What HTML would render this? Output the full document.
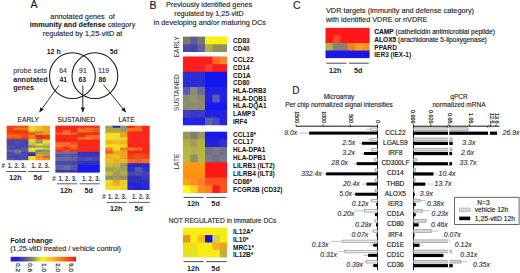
<!DOCTYPE html>
<html><head><meta charset="utf-8"><style>
html,body{margin:0;padding:0;background:#fff;width:520px;height:273px;overflow:hidden}
svg{display:block}
text{font-family:"Liberation Sans",sans-serif}
</style></head><body>
<svg width="520" height="273" viewBox="0 0 520 273" shape-rendering="auto">
<rect width="520" height="273" fill="#fff"/>
<text x="30.4" y="8.3" font-size="10.5" fill="#1a1a1a" stroke="#1a1a1a" stroke-width="0.15">A</text>
<text x="82.6" y="19.0" font-size="7.3" text-anchor="middle" fill="#2a2a2a" stroke="#2a2a2a" stroke-width="0.15">annotated genes&#160; of</text>
<text x="82.6" y="27.3" font-size="7.2" text-anchor="middle" fill="#2a2a2a" stroke="#2a2a2a" stroke-width="0.15"><tspan font-weight="bold">immunity and defense</tspan> category</text>
<text x="82.6" y="35.6" font-size="7.3" text-anchor="middle" fill="#2a2a2a" stroke="#2a2a2a" stroke-width="0.15">regulated by 1,25-vitD at</text>
<text x="53.7" y="53.8" font-size="7.0" font-weight="bold" text-anchor="middle" fill="#1a1a1a">12 h</text>
<text x="113.6" y="53.8" font-size="6.8" font-weight="bold" text-anchor="middle" fill="#1a1a1a">5d</text>
<circle cx="72.4" cy="75.7" r="22.9" fill="none" stroke="#1a1a1a" stroke-width="1.05"/>
<circle cx="94.9" cy="75.7" r="22.9" fill="none" stroke="#1a1a1a" stroke-width="1.05"/>
<text x="13.2" y="73.0" font-size="7.2" fill="#444" stroke="#444" stroke-width="0.15">probe sets</text>
<text x="13.2" y="81.6" font-size="7.2" font-weight="bold" fill="#1a1a1a">annotated</text>
<text x="13.2" y="90.2" font-size="7.2" font-weight="bold" fill="#1a1a1a">genes</text>
<text x="63.1" y="73.3" font-size="6.9" text-anchor="middle" fill="#444" stroke="#444" stroke-width="0.15">64</text>
<text x="63.3" y="82.2" font-size="6.8" font-weight="bold" text-anchor="middle" fill="#1a1a1a">41</text>
<text x="82.9" y="73.3" font-size="6.9" text-anchor="middle" fill="#444" stroke="#444" stroke-width="0.15">91</text>
<text x="82.2" y="82.2" font-size="6.8" font-weight="bold" text-anchor="middle" fill="#1a1a1a">63</text>
<text x="103.6" y="73.3" font-size="6.9" text-anchor="middle" fill="#444" stroke="#444" stroke-width="0.15">119</text>
<text x="102.3" y="82.2" font-size="6.8" font-weight="bold" text-anchor="middle" fill="#1a1a1a">86</text>
<line x1="59.0" y1="85.3" x2="39.4" y2="112.2" stroke="#1a1a1a" stroke-width="0.9"/>
<polygon points="39.40,112.20 40.33,107.19 43.89,109.78" fill="#1a1a1a"/>
<line x1="82.8" y1="85.6" x2="82.8" y2="112.2" stroke="#1a1a1a" stroke-width="0.9"/>
<polygon points="82.80,112.20 80.60,107.60 85.00,107.60" fill="#1a1a1a"/>
<line x1="103.4" y1="84.6" x2="125.8" y2="112.2" stroke="#1a1a1a" stroke-width="0.9"/>
<polygon points="125.80,112.20 121.19,110.01 124.61,107.24" fill="#1a1a1a"/>
<text x="28.2" y="121.9" font-size="6.7" text-anchor="middle" fill="#2a2a2a" stroke="#2a2a2a" stroke-width="0.15">EARLY</text>
<text x="76.5" y="121.9" font-size="6.7" text-anchor="middle" fill="#2a2a2a" stroke="#2a2a2a" stroke-width="0.15">SUSTAINED</text>
<text x="126.5" y="121.9" font-size="6.7" text-anchor="middle" fill="#2a2a2a" stroke="#2a2a2a" stroke-width="0.15">LATE</text>
<rect x="6.70" y="125.70" width="7.82" height="2.40" fill="#f5420f"/>
<rect x="13.92" y="125.70" width="7.82" height="2.40" fill="#f5420f"/>
<rect x="21.13" y="125.70" width="7.82" height="2.40" fill="#f5420f"/>
<rect x="28.35" y="125.70" width="7.82" height="2.40" fill="#f0d820"/>
<rect x="35.57" y="125.70" width="7.82" height="2.40" fill="#f0c020"/>
<rect x="42.78" y="125.70" width="7.22" height="2.40" fill="#f0a020"/>
<rect x="6.70" y="127.50" width="7.82" height="2.70" fill="#f04010"/>
<rect x="13.92" y="127.50" width="7.82" height="2.70" fill="#f07818"/>
<rect x="21.13" y="127.50" width="7.82" height="2.70" fill="#f07818"/>
<rect x="28.35" y="127.50" width="7.82" height="2.70" fill="#f0d820"/>
<rect x="35.57" y="127.50" width="7.82" height="2.70" fill="#f0c020"/>
<rect x="42.78" y="127.50" width="7.22" height="2.70" fill="#f0a828"/>
<rect x="6.70" y="129.60" width="7.82" height="2.60" fill="#f5420f"/>
<rect x="13.92" y="129.60" width="7.82" height="2.60" fill="#f5420f"/>
<rect x="21.13" y="129.60" width="7.82" height="2.60" fill="#f05010"/>
<rect x="28.35" y="129.60" width="7.82" height="2.60" fill="#f0d020"/>
<rect x="35.57" y="129.60" width="7.82" height="2.60" fill="#f0b020"/>
<rect x="42.78" y="129.60" width="7.22" height="2.60" fill="#f0a020"/>
<rect x="6.70" y="131.60" width="7.82" height="2.00" fill="#f5420f"/>
<rect x="13.92" y="131.60" width="7.82" height="2.00" fill="#f02810"/>
<rect x="21.13" y="131.60" width="7.82" height="2.00" fill="#f02810"/>
<rect x="28.35" y="131.60" width="7.82" height="2.00" fill="#b09040"/>
<rect x="35.57" y="131.60" width="7.82" height="2.00" fill="#a08848"/>
<rect x="42.78" y="131.60" width="7.22" height="2.00" fill="#f0a020"/>
<rect x="6.70" y="133.00" width="7.82" height="2.60" fill="#f05010"/>
<rect x="13.92" y="133.00" width="7.82" height="2.60" fill="#f05010"/>
<rect x="21.13" y="133.00" width="7.82" height="2.60" fill="#f5420f"/>
<rect x="28.35" y="133.00" width="7.82" height="2.60" fill="#f05010"/>
<rect x="35.57" y="133.00" width="7.82" height="2.60" fill="#f09020"/>
<rect x="42.78" y="133.00" width="7.22" height="2.60" fill="#f09020"/>
<rect x="6.70" y="135.00" width="7.82" height="2.80" fill="#f07020"/>
<rect x="13.92" y="135.00" width="7.82" height="2.80" fill="#f07020"/>
<rect x="21.13" y="135.00" width="7.82" height="2.80" fill="#f05020"/>
<rect x="28.35" y="135.00" width="7.82" height="2.80" fill="#f08020"/>
<rect x="35.57" y="135.00" width="7.82" height="2.80" fill="#f02010"/>
<rect x="42.78" y="135.00" width="7.22" height="2.80" fill="#f04010"/>
<rect x="6.70" y="137.20" width="7.82" height="2.80" fill="#f5420f"/>
<rect x="13.92" y="137.20" width="7.82" height="2.80" fill="#f5420f"/>
<rect x="21.13" y="137.20" width="7.82" height="2.80" fill="#f03010"/>
<rect x="28.35" y="137.20" width="7.82" height="2.80" fill="#f08020"/>
<rect x="35.57" y="137.20" width="7.82" height="2.80" fill="#f03010"/>
<rect x="42.78" y="137.20" width="7.22" height="2.80" fill="#f03010"/>
<rect x="6.70" y="139.40" width="7.82" height="2.60" fill="#4646b0"/>
<rect x="13.92" y="139.40" width="7.82" height="2.60" fill="#4646b0"/>
<rect x="21.13" y="139.40" width="7.82" height="2.60" fill="#4646b0"/>
<rect x="28.35" y="139.40" width="7.82" height="2.60" fill="#e8e020"/>
<rect x="35.57" y="139.40" width="7.82" height="2.60" fill="#a0a050"/>
<rect x="42.78" y="139.40" width="7.22" height="2.60" fill="#e0d030"/>
<rect x="6.70" y="141.40" width="7.82" height="2.70" fill="#4646b0"/>
<rect x="13.92" y="141.40" width="7.82" height="2.70" fill="#5050a8"/>
<rect x="21.13" y="141.40" width="7.82" height="2.70" fill="#4646b0"/>
<rect x="28.35" y="141.40" width="7.82" height="2.70" fill="#d0d040"/>
<rect x="35.57" y="141.40" width="7.82" height="2.70" fill="#909070"/>
<rect x="42.78" y="141.40" width="7.22" height="2.70" fill="#e8e030"/>
<rect x="6.70" y="143.50" width="7.82" height="2.70" fill="#4646b0"/>
<rect x="13.92" y="143.50" width="7.82" height="2.70" fill="#4646b0"/>
<rect x="21.13" y="143.50" width="7.82" height="2.70" fill="#4646b0"/>
<rect x="28.35" y="143.50" width="7.82" height="2.70" fill="#c0c048"/>
<rect x="35.57" y="143.50" width="7.82" height="2.70" fill="#e8e030"/>
<rect x="42.78" y="143.50" width="7.22" height="2.70" fill="#c8c040"/>
<rect x="6.70" y="145.60" width="7.82" height="2.60" fill="#5252a8"/>
<rect x="13.92" y="145.60" width="7.82" height="2.60" fill="#4646b0"/>
<rect x="21.13" y="145.60" width="7.82" height="2.60" fill="#4646b0"/>
<rect x="28.35" y="145.60" width="7.82" height="2.60" fill="#8a8a70"/>
<rect x="35.57" y="145.60" width="7.82" height="2.60" fill="#a0a050"/>
<rect x="42.78" y="145.60" width="7.22" height="2.60" fill="#a0a050"/>
<rect x="6.70" y="147.60" width="7.82" height="2.70" fill="#4646b0"/>
<rect x="13.92" y="147.60" width="7.82" height="2.70" fill="#4646b0"/>
<rect x="21.13" y="147.60" width="7.82" height="2.70" fill="#5a5aa0"/>
<rect x="28.35" y="147.60" width="7.82" height="2.70" fill="#f0e030"/>
<rect x="35.57" y="147.60" width="7.82" height="2.70" fill="#e8e030"/>
<rect x="42.78" y="147.60" width="7.22" height="2.70" fill="#c8c848"/>
<rect x="6.70" y="149.70" width="7.82" height="2.70" fill="#6a6a98"/>
<rect x="13.92" y="149.70" width="7.82" height="2.70" fill="#7a7a88"/>
<rect x="21.13" y="149.70" width="7.82" height="2.70" fill="#5a5aa0"/>
<rect x="28.35" y="149.70" width="7.82" height="2.70" fill="#e8e030"/>
<rect x="35.57" y="149.70" width="7.82" height="2.70" fill="#808080"/>
<rect x="42.78" y="149.70" width="7.22" height="2.70" fill="#909070"/>
<rect x="6.70" y="151.80" width="7.82" height="2.70" fill="#4646b0"/>
<rect x="13.92" y="151.80" width="7.82" height="2.70" fill="#6a6a98"/>
<rect x="21.13" y="151.80" width="7.82" height="2.70" fill="#4646b0"/>
<rect x="28.35" y="151.80" width="7.82" height="2.70" fill="#5050a0"/>
<rect x="35.57" y="151.80" width="7.82" height="2.70" fill="#a0a050"/>
<rect x="42.78" y="151.80" width="7.22" height="2.70" fill="#a0a050"/>
<rect x="6.70" y="153.90" width="7.82" height="2.70" fill="#5050a8"/>
<rect x="13.92" y="153.90" width="7.82" height="2.70" fill="#4646b0"/>
<rect x="21.13" y="153.90" width="7.82" height="2.70" fill="#4a4ab0"/>
<rect x="28.35" y="153.90" width="7.82" height="2.70" fill="#2828c0"/>
<rect x="35.57" y="153.90" width="7.82" height="2.70" fill="#f0a020"/>
<rect x="42.78" y="153.90" width="7.22" height="2.70" fill="#a8a048"/>
<rect x="6.70" y="156.00" width="7.82" height="2.60" fill="#4646b0"/>
<rect x="13.92" y="156.00" width="7.82" height="2.60" fill="#4646b0"/>
<rect x="21.13" y="156.00" width="7.82" height="2.60" fill="#4646b0"/>
<rect x="28.35" y="156.00" width="7.82" height="2.60" fill="#f0e020"/>
<rect x="35.57" y="156.00" width="7.82" height="2.60" fill="#f09020"/>
<rect x="42.78" y="156.00" width="7.22" height="2.60" fill="#f06020"/>
<rect x="6.70" y="158.00" width="7.82" height="2.20" fill="#5a5aa0"/>
<rect x="13.92" y="158.00" width="7.82" height="2.20" fill="#4646b0"/>
<rect x="21.13" y="158.00" width="7.82" height="2.20" fill="#5050a8"/>
<rect x="28.35" y="158.00" width="7.82" height="2.20" fill="#f0e020"/>
<rect x="35.57" y="158.00" width="7.82" height="2.20" fill="#f0a020"/>
<rect x="42.78" y="158.00" width="7.22" height="2.20" fill="#f09020"/>
<rect x="55.40" y="125.60" width="8.00" height="2.61" fill="#f82818"/>
<rect x="62.80" y="125.60" width="8.00" height="2.61" fill="#f82818"/>
<rect x="70.20" y="125.60" width="8.00" height="2.61" fill="#f82818"/>
<rect x="77.60" y="125.60" width="8.00" height="2.61" fill="#f82818"/>
<rect x="85.00" y="125.60" width="8.00" height="2.61" fill="#f82818"/>
<rect x="92.40" y="125.60" width="7.40" height="2.61" fill="#f82818"/>
<rect x="55.40" y="127.61" width="8.00" height="3.02" fill="#f82818"/>
<rect x="62.80" y="127.61" width="8.00" height="3.02" fill="#f82818"/>
<rect x="70.20" y="127.61" width="8.00" height="3.02" fill="#f82818"/>
<rect x="77.60" y="127.61" width="8.00" height="3.02" fill="#f06020"/>
<rect x="85.00" y="127.61" width="8.00" height="3.02" fill="#f07020"/>
<rect x="92.40" y="127.61" width="7.40" height="3.02" fill="#f06020"/>
<rect x="55.40" y="130.03" width="8.00" height="3.02" fill="#f82818"/>
<rect x="62.80" y="130.03" width="8.00" height="3.02" fill="#f06a20"/>
<rect x="70.20" y="130.03" width="8.00" height="3.02" fill="#f82818"/>
<rect x="77.60" y="130.03" width="8.00" height="3.02" fill="#f08020"/>
<rect x="85.00" y="130.03" width="8.00" height="3.02" fill="#f07020"/>
<rect x="92.40" y="130.03" width="7.40" height="3.02" fill="#f05020"/>
<rect x="55.40" y="132.44" width="8.00" height="3.02" fill="#f06020"/>
<rect x="62.80" y="132.44" width="8.00" height="3.02" fill="#f07020"/>
<rect x="70.20" y="132.44" width="8.00" height="3.02" fill="#f06020"/>
<rect x="77.60" y="132.44" width="8.00" height="3.02" fill="#f82818"/>
<rect x="85.00" y="132.44" width="8.00" height="3.02" fill="#f82818"/>
<rect x="92.40" y="132.44" width="7.40" height="3.02" fill="#f82818"/>
<rect x="55.40" y="134.86" width="8.00" height="2.81" fill="#f82818"/>
<rect x="62.80" y="134.86" width="8.00" height="2.81" fill="#f82818"/>
<rect x="70.20" y="134.86" width="8.00" height="2.81" fill="#f82818"/>
<rect x="77.60" y="134.86" width="8.00" height="2.81" fill="#f82818"/>
<rect x="85.00" y="134.86" width="8.00" height="2.81" fill="#f06020"/>
<rect x="92.40" y="134.86" width="7.40" height="2.81" fill="#f07020"/>
<rect x="55.40" y="137.07" width="8.00" height="3.22" fill="#f82818"/>
<rect x="62.80" y="137.07" width="8.00" height="3.22" fill="#f82818"/>
<rect x="70.20" y="137.07" width="8.00" height="3.22" fill="#f82818"/>
<rect x="77.60" y="137.07" width="8.00" height="3.22" fill="#f07020"/>
<rect x="85.00" y="137.07" width="8.00" height="3.22" fill="#f08020"/>
<rect x="92.40" y="137.07" width="7.40" height="3.22" fill="#f06020"/>
<rect x="55.40" y="139.69" width="8.00" height="3.02" fill="#f82818"/>
<rect x="62.80" y="139.69" width="8.00" height="3.02" fill="#f82818"/>
<rect x="70.20" y="139.69" width="8.00" height="3.02" fill="#f82818"/>
<rect x="77.60" y="139.69" width="8.00" height="3.02" fill="#f82818"/>
<rect x="85.00" y="139.69" width="8.00" height="3.02" fill="#f82818"/>
<rect x="92.40" y="139.69" width="7.40" height="3.02" fill="#f82818"/>
<rect x="55.40" y="142.11" width="8.00" height="3.22" fill="#f06a20"/>
<rect x="62.80" y="142.11" width="8.00" height="3.22" fill="#f07020"/>
<rect x="70.20" y="142.11" width="8.00" height="3.22" fill="#f05020"/>
<rect x="77.60" y="142.11" width="8.00" height="3.22" fill="#f82818"/>
<rect x="85.00" y="142.11" width="8.00" height="3.22" fill="#f82818"/>
<rect x="92.40" y="142.11" width="7.40" height="3.22" fill="#f82818"/>
<rect x="55.40" y="144.72" width="8.00" height="3.02" fill="#f07a20"/>
<rect x="62.80" y="144.72" width="8.00" height="3.02" fill="#f06020"/>
<rect x="70.20" y="144.72" width="8.00" height="3.02" fill="#f07020"/>
<rect x="77.60" y="144.72" width="8.00" height="3.02" fill="#f82818"/>
<rect x="85.00" y="144.72" width="8.00" height="3.02" fill="#f82818"/>
<rect x="92.40" y="144.72" width="7.40" height="3.02" fill="#f82818"/>
<rect x="55.40" y="147.14" width="8.00" height="3.02" fill="#f05020"/>
<rect x="62.80" y="147.14" width="8.00" height="3.02" fill="#f82818"/>
<rect x="70.20" y="147.14" width="8.00" height="3.02" fill="#f06020"/>
<rect x="77.60" y="147.14" width="8.00" height="3.02" fill="#f82818"/>
<rect x="85.00" y="147.14" width="8.00" height="3.02" fill="#f82818"/>
<rect x="92.40" y="147.14" width="7.40" height="3.02" fill="#f82818"/>
<rect x="55.40" y="149.55" width="8.00" height="2.91" fill="#f82818"/>
<rect x="62.80" y="149.55" width="8.00" height="2.91" fill="#f05020"/>
<rect x="70.20" y="149.55" width="8.00" height="2.91" fill="#f82818"/>
<rect x="77.60" y="149.55" width="8.00" height="2.91" fill="#f82818"/>
<rect x="85.00" y="149.55" width="8.00" height="2.91" fill="#f82818"/>
<rect x="92.40" y="149.55" width="7.40" height="2.91" fill="#f82818"/>
<rect x="55.40" y="151.87" width="8.00" height="2.61" fill="#7070a0"/>
<rect x="62.80" y="151.87" width="8.00" height="2.61" fill="#7070a0"/>
<rect x="70.20" y="151.87" width="8.00" height="2.61" fill="#6a6aa0"/>
<rect x="77.60" y="151.87" width="8.00" height="2.61" fill="#3030c8"/>
<rect x="85.00" y="151.87" width="8.00" height="2.61" fill="#3030c8"/>
<rect x="92.40" y="151.87" width="7.40" height="2.61" fill="#3030c8"/>
<rect x="55.40" y="153.88" width="8.00" height="3.62" fill="#5050a8"/>
<rect x="62.80" y="153.88" width="8.00" height="3.62" fill="#5858a8"/>
<rect x="70.20" y="153.88" width="8.00" height="3.62" fill="#5050a8"/>
<rect x="77.60" y="153.88" width="8.00" height="3.62" fill="#3838c0"/>
<rect x="85.00" y="153.88" width="8.00" height="3.62" fill="#3838c0"/>
<rect x="92.40" y="153.88" width="7.40" height="3.62" fill="#3838c0"/>
<rect x="55.40" y="156.90" width="8.00" height="4.63" fill="#6868a0"/>
<rect x="62.80" y="156.90" width="8.00" height="4.63" fill="#6a6a98"/>
<rect x="70.20" y="156.90" width="8.00" height="4.63" fill="#6060a0"/>
<rect x="77.60" y="156.90" width="8.00" height="4.63" fill="#4848b0"/>
<rect x="85.00" y="156.90" width="8.00" height="4.63" fill="#5050b0"/>
<rect x="92.40" y="156.90" width="7.40" height="4.63" fill="#4848b0"/>
<rect x="55.40" y="160.93" width="8.00" height="4.63" fill="#4646b0"/>
<rect x="62.80" y="160.93" width="8.00" height="4.63" fill="#4848b0"/>
<rect x="70.20" y="160.93" width="8.00" height="4.63" fill="#4646b0"/>
<rect x="77.60" y="160.93" width="8.00" height="4.63" fill="#3030c0"/>
<rect x="85.00" y="160.93" width="8.00" height="4.63" fill="#3030c0"/>
<rect x="92.40" y="160.93" width="7.40" height="4.63" fill="#3030c0"/>
<rect x="55.40" y="164.95" width="8.00" height="5.63" fill="#6060a0"/>
<rect x="62.80" y="164.95" width="8.00" height="5.63" fill="#6868a0"/>
<rect x="70.20" y="164.95" width="8.00" height="5.63" fill="#5a5aa0"/>
<rect x="77.60" y="164.95" width="8.00" height="5.63" fill="#1818f0"/>
<rect x="85.00" y="164.95" width="8.00" height="5.63" fill="#1818f0"/>
<rect x="92.40" y="164.95" width="7.40" height="5.63" fill="#1818f0"/>
<rect x="55.40" y="169.98" width="8.00" height="2.62" fill="#3838b0"/>
<rect x="62.80" y="169.98" width="8.00" height="2.62" fill="#3838b0"/>
<rect x="70.20" y="169.98" width="8.00" height="2.62" fill="#3838b0"/>
<rect x="77.60" y="169.98" width="8.00" height="2.62" fill="#1818f0"/>
<rect x="85.00" y="169.98" width="8.00" height="2.62" fill="#1818f0"/>
<rect x="92.40" y="169.98" width="7.40" height="2.62" fill="#1818f0"/>
<rect x="105.30" y="125.70" width="7.98" height="2.68" fill="#a0a050"/>
<rect x="112.68" y="125.70" width="7.98" height="2.68" fill="#2828c0"/>
<rect x="120.07" y="125.70" width="7.98" height="2.68" fill="#909060"/>
<rect x="127.45" y="125.70" width="7.98" height="2.68" fill="#f82818"/>
<rect x="134.83" y="125.70" width="7.98" height="2.68" fill="#f06020"/>
<rect x="142.22" y="125.70" width="7.38" height="2.68" fill="#f82818"/>
<rect x="105.30" y="127.78" width="7.98" height="4.24" fill="#a8a840"/>
<rect x="112.68" y="127.78" width="7.98" height="4.24" fill="#a8a848"/>
<rect x="120.07" y="127.78" width="7.98" height="4.24" fill="#989870"/>
<rect x="127.45" y="127.78" width="7.98" height="4.24" fill="#f07020"/>
<rect x="134.83" y="127.78" width="7.98" height="4.24" fill="#f07020"/>
<rect x="142.22" y="127.78" width="7.38" height="4.24" fill="#f82818"/>
<rect x="105.30" y="131.42" width="7.98" height="2.16" fill="#e0a030"/>
<rect x="112.68" y="131.42" width="7.98" height="2.16" fill="#d0a038"/>
<rect x="120.07" y="131.42" width="7.98" height="2.16" fill="#d0a040"/>
<rect x="127.45" y="131.42" width="7.98" height="2.16" fill="#f82818"/>
<rect x="134.83" y="131.42" width="7.98" height="2.16" fill="#f82818"/>
<rect x="142.22" y="131.42" width="7.38" height="2.16" fill="#f82818"/>
<rect x="105.30" y="132.98" width="7.98" height="4.76" fill="#f0e020"/>
<rect x="112.68" y="132.98" width="7.98" height="4.76" fill="#f0e020"/>
<rect x="120.07" y="132.98" width="7.98" height="4.76" fill="#f0a020"/>
<rect x="127.45" y="132.98" width="7.98" height="4.76" fill="#f82818"/>
<rect x="134.83" y="132.98" width="7.98" height="4.76" fill="#f82818"/>
<rect x="142.22" y="132.98" width="7.38" height="4.76" fill="#f82818"/>
<rect x="105.30" y="137.14" width="7.98" height="3.72" fill="#f0e020"/>
<rect x="112.68" y="137.14" width="7.98" height="3.72" fill="#e0e030"/>
<rect x="120.07" y="137.14" width="7.98" height="3.72" fill="#f0d020"/>
<rect x="127.45" y="137.14" width="7.98" height="3.72" fill="#f82818"/>
<rect x="134.83" y="137.14" width="7.98" height="3.72" fill="#f82818"/>
<rect x="142.22" y="137.14" width="7.38" height="3.72" fill="#f82818"/>
<rect x="105.30" y="140.27" width="7.98" height="4.76" fill="#f0b020"/>
<rect x="112.68" y="140.27" width="7.98" height="4.76" fill="#f0c020"/>
<rect x="120.07" y="140.27" width="7.98" height="4.76" fill="#f0b020"/>
<rect x="127.45" y="140.27" width="7.98" height="4.76" fill="#f82818"/>
<rect x="134.83" y="140.27" width="7.98" height="4.76" fill="#f82818"/>
<rect x="142.22" y="140.27" width="7.38" height="4.76" fill="#f82818"/>
<rect x="105.30" y="144.43" width="7.98" height="3.72" fill="#f0e820"/>
<rect x="112.68" y="144.43" width="7.98" height="3.72" fill="#f0e020"/>
<rect x="120.07" y="144.43" width="7.98" height="3.72" fill="#f0d820"/>
<rect x="127.45" y="144.43" width="7.98" height="3.72" fill="#f82818"/>
<rect x="134.83" y="144.43" width="7.98" height="3.72" fill="#f82818"/>
<rect x="142.22" y="144.43" width="7.38" height="3.72" fill="#f82818"/>
<rect x="105.30" y="147.55" width="7.98" height="3.72" fill="#f08020"/>
<rect x="112.68" y="147.55" width="7.98" height="3.72" fill="#f0e020"/>
<rect x="120.07" y="147.55" width="7.98" height="3.72" fill="#f08020"/>
<rect x="127.45" y="147.55" width="7.98" height="3.72" fill="#f07020"/>
<rect x="134.83" y="147.55" width="7.98" height="3.72" fill="#f06020"/>
<rect x="142.22" y="147.55" width="7.38" height="3.72" fill="#f82818"/>
<rect x="105.30" y="150.67" width="7.98" height="3.72" fill="#f06020"/>
<rect x="112.68" y="150.67" width="7.98" height="3.72" fill="#f0a020"/>
<rect x="120.07" y="150.67" width="7.98" height="3.72" fill="#f0a020"/>
<rect x="127.45" y="150.67" width="7.98" height="3.72" fill="#f82818"/>
<rect x="134.83" y="150.67" width="7.98" height="3.72" fill="#f82818"/>
<rect x="142.22" y="150.67" width="7.38" height="3.72" fill="#f82818"/>
<rect x="105.30" y="153.79" width="7.98" height="5.80" fill="#f0b020"/>
<rect x="112.68" y="153.79" width="7.98" height="5.80" fill="#f0c020"/>
<rect x="120.07" y="153.79" width="7.98" height="5.80" fill="#f0a020"/>
<rect x="127.45" y="153.79" width="7.98" height="5.80" fill="#f04020"/>
<rect x="134.83" y="153.79" width="7.98" height="5.80" fill="#f05020"/>
<rect x="142.22" y="153.79" width="7.38" height="5.80" fill="#f04020"/>
<rect x="105.30" y="158.99" width="7.98" height="4.76" fill="#f0c020"/>
<rect x="112.68" y="158.99" width="7.98" height="4.76" fill="#f0b020"/>
<rect x="120.07" y="158.99" width="7.98" height="4.76" fill="#f0b820"/>
<rect x="127.45" y="158.99" width="7.98" height="4.76" fill="#f07020"/>
<rect x="134.83" y="158.99" width="7.98" height="4.76" fill="#f06020"/>
<rect x="142.22" y="158.99" width="7.38" height="4.76" fill="#f07020"/>
<rect x="105.30" y="163.16" width="7.98" height="4.76" fill="#c0c040"/>
<rect x="112.68" y="163.16" width="7.98" height="4.76" fill="#b8b848"/>
<rect x="120.07" y="163.16" width="7.98" height="4.76" fill="#989870"/>
<rect x="127.45" y="163.16" width="7.98" height="4.76" fill="#2828c8"/>
<rect x="134.83" y="163.16" width="7.98" height="4.76" fill="#2828c8"/>
<rect x="142.22" y="163.16" width="7.38" height="4.76" fill="#2828c8"/>
<rect x="105.30" y="167.32" width="7.98" height="4.76" fill="#a0a050"/>
<rect x="112.68" y="167.32" width="7.98" height="4.76" fill="#a8a848"/>
<rect x="120.07" y="167.32" width="7.98" height="4.76" fill="#a0a050"/>
<rect x="127.45" y="167.32" width="7.98" height="4.76" fill="#3030c8"/>
<rect x="134.83" y="167.32" width="7.98" height="4.76" fill="#5858a0"/>
<rect x="142.22" y="167.32" width="7.38" height="4.76" fill="#3030c8"/>
<rect x="105.30" y="171.48" width="7.98" height="4.76" fill="#c0c040"/>
<rect x="112.68" y="171.48" width="7.98" height="4.76" fill="#a0a050"/>
<rect x="120.07" y="171.48" width="7.98" height="4.76" fill="#b0b048"/>
<rect x="127.45" y="171.48" width="7.98" height="4.76" fill="#4848b0"/>
<rect x="134.83" y="171.48" width="7.98" height="4.76" fill="#5050a8"/>
<rect x="142.22" y="171.48" width="7.38" height="4.76" fill="#4040b8"/>
<rect x="105.30" y="175.64" width="7.98" height="4.76" fill="#909060"/>
<rect x="112.68" y="175.64" width="7.98" height="4.76" fill="#989860"/>
<rect x="120.07" y="175.64" width="7.98" height="4.76" fill="#909060"/>
<rect x="127.45" y="175.64" width="7.98" height="4.76" fill="#3030c0"/>
<rect x="134.83" y="175.64" width="7.98" height="4.76" fill="#3030c0"/>
<rect x="142.22" y="175.64" width="7.38" height="4.76" fill="#3838c0"/>
<rect x="105.30" y="179.80" width="7.98" height="3.72" fill="#e0e030"/>
<rect x="112.68" y="179.80" width="7.98" height="3.72" fill="#f0a020"/>
<rect x="120.07" y="179.80" width="7.98" height="3.72" fill="#e0d030"/>
<rect x="127.45" y="179.80" width="7.98" height="3.72" fill="#3030c0"/>
<rect x="134.83" y="179.80" width="7.98" height="3.72" fill="#3030c0"/>
<rect x="142.22" y="179.80" width="7.38" height="3.72" fill="#3030c0"/>
<rect x="105.30" y="182.92" width="7.98" height="3.72" fill="#f0d020"/>
<rect x="112.68" y="182.92" width="7.98" height="3.72" fill="#f0b020"/>
<rect x="120.07" y="182.92" width="7.98" height="3.72" fill="#e8d028"/>
<rect x="127.45" y="182.92" width="7.98" height="3.72" fill="#2020e0"/>
<rect x="134.83" y="182.92" width="7.98" height="3.72" fill="#2020e0"/>
<rect x="142.22" y="182.92" width="7.38" height="3.72" fill="#2828d0"/>
<rect x="105.30" y="186.05" width="7.98" height="3.95" fill="#f0e020"/>
<rect x="112.68" y="186.05" width="7.98" height="3.95" fill="#e8e028"/>
<rect x="120.07" y="186.05" width="7.98" height="3.95" fill="#f0d020"/>
<rect x="127.45" y="186.05" width="7.98" height="3.95" fill="#2828d0"/>
<rect x="134.83" y="186.05" width="7.98" height="3.95" fill="#2020e0"/>
<rect x="142.22" y="186.05" width="7.38" height="3.95" fill="#2828d0"/>
<text x="1.6" y="168.2" font-size="6.3" font-weight="bold" fill="#3a3a44">#</text>
<text x="7.7" y="168.2" font-size="6.7" font-weight="bold" fill="#3a3a48" textLength="18.4" lengthAdjust="spacingAndGlyphs">1. 2. 3.</text>
<text x="31.2" y="168.2" font-size="6.7" font-weight="bold" fill="#3a3a48" textLength="18.4" lengthAdjust="spacingAndGlyphs">1. 2. 3.</text>
<line x1="6.2" y1="171.5" x2="26.3" y2="171.5" stroke="#5a5a6a" stroke-width="1.0"/>
<line x1="28.3" y1="171.5" x2="49.0" y2="171.5" stroke="#5a5a6a" stroke-width="1.0"/>
<text x="15.5" y="180.1" font-size="7.2" font-weight="bold" text-anchor="middle" fill="#1a1a1a">12h</text>
<text x="37.7" y="180.1" font-size="7.2" font-weight="bold" text-anchor="middle" fill="#1a1a1a">5d</text>
<text x="52.3" y="180.6" font-size="6.3" font-weight="bold" fill="#3a3a44">#</text>
<text x="58.4" y="180.6" font-size="6.7" font-weight="bold" fill="#3a3a48" textLength="18.4" lengthAdjust="spacingAndGlyphs">1. 2. 3.</text>
<text x="81.9" y="180.6" font-size="6.7" font-weight="bold" fill="#3a3a48" textLength="18.4" lengthAdjust="spacingAndGlyphs">1. 2. 3.</text>
<line x1="56.9" y1="183.8" x2="77.1" y2="183.8" stroke="#5a5a6a" stroke-width="1.0"/>
<line x1="79.6" y1="183.8" x2="99.8" y2="183.8" stroke="#5a5a6a" stroke-width="1.0"/>
<text x="66.3" y="192.8" font-size="7.2" font-weight="bold" text-anchor="middle" fill="#1a1a1a">12h</text>
<text x="88.8" y="192.8" font-size="7.2" font-weight="bold" text-anchor="middle" fill="#1a1a1a">5d</text>
<text x="102.3" y="199.1" font-size="6.3" font-weight="bold" fill="#3a3a44">#</text>
<text x="108.0" y="199.1" font-size="6.7" font-weight="bold" fill="#3a3a48" textLength="18.4" lengthAdjust="spacingAndGlyphs">1. 2. 3.</text>
<text x="132.0" y="199.1" font-size="6.7" font-weight="bold" fill="#3a3a48" textLength="18.4" lengthAdjust="spacingAndGlyphs">1. 2. 3.</text>
<line x1="106.6" y1="202.4" x2="126.8" y2="202.4" stroke="#5a5a6a" stroke-width="1.0"/>
<line x1="129.0" y1="202.4" x2="149.8" y2="202.4" stroke="#5a5a6a" stroke-width="1.0"/>
<text x="116.1" y="211.2" font-size="7.2" font-weight="bold" text-anchor="middle" fill="#1a1a1a">12h</text>
<text x="138.8" y="211.2" font-size="7.2" font-weight="bold" text-anchor="middle" fill="#1a1a1a">5d</text>
<text x="10.2" y="242.6" font-size="7.25" font-weight="bold" fill="#1a1a1a">Fold change</text>
<text x="10.2" y="251.2" font-size="7.25" fill="#2a2a2a" stroke="#2a2a2a" stroke-width="0.15">(1,25-vitD treated / vehicle control)</text>
<defs><linearGradient id="fc" x1="0" x2="1" y1="0" y2="0"><stop offset="0" stop-color="#1818e8"/><stop offset="0.1" stop-color="#2020d8"/><stop offset="0.27" stop-color="#686878"/><stop offset="0.34" stop-color="#8a8a5a"/><stop offset="0.48" stop-color="#f8f818"/><stop offset="0.66" stop-color="#f8b020"/><stop offset="1" stop-color="#f01818"/></linearGradient></defs>
<rect x="10.70" y="256.80" width="65.30" height="4.70" fill="url(#fc)"/>
<text transform="translate(15.5,263.3) rotate(90)" font-size="6.2" fill="#333" stroke="#333" stroke-width="0.25">0.2</text>
<text transform="translate(28.3,263.3) rotate(90)" font-size="6.2" fill="#333" stroke="#333" stroke-width="0.25">0.6</text>
<text transform="translate(41.8,263.3) rotate(90)" font-size="6.2" fill="#333" stroke="#333" stroke-width="0.25">1.0</text>
<text transform="translate(55.8,263.3) rotate(90)" font-size="6.2" fill="#333" stroke="#333" stroke-width="0.25">2.0</text>
<text transform="translate(68.8,263.3) rotate(90)" font-size="6.2" fill="#333" stroke="#333" stroke-width="0.25">5.0</text>
<text x="149.5" y="8.7" font-size="10.5" fill="#1a1a1a" stroke="#1a1a1a" stroke-width="0.15">B</text>
<text x="209.0" y="6.9" font-size="7.25" text-anchor="middle" fill="#2a2a2a" stroke="#2a2a2a" stroke-width="0.15">Previously identified genes</text>
<text x="209.0" y="16.0" font-size="7.1" text-anchor="middle" fill="#2a2a2a" stroke="#2a2a2a" stroke-width="0.15">regulated by 1,25-vitD</text>
<text x="209.8" y="25.1" font-size="7.3" text-anchor="middle" fill="#2a2a2a" stroke="#2a2a2a" stroke-width="0.15">in developing and/or maturing DCs</text>
<rect x="182.90" y="36.60" width="7.97" height="8.30" fill="#7a7a62"/>
<rect x="190.27" y="36.60" width="7.97" height="8.30" fill="#5a5aa0"/>
<rect x="197.63" y="36.60" width="7.97" height="8.30" fill="#7a7a62"/>
<rect x="205.00" y="36.60" width="7.97" height="8.30" fill="#f8f010"/>
<rect x="212.37" y="36.60" width="7.97" height="8.30" fill="#f8f010"/>
<rect x="219.73" y="36.60" width="7.37" height="8.30" fill="#f8f010"/>
<rect x="182.90" y="44.30" width="7.97" height="7.70" fill="#4848b0"/>
<rect x="190.27" y="44.30" width="7.97" height="7.70" fill="#4242b0"/>
<rect x="197.63" y="44.30" width="7.97" height="7.70" fill="#6060a0"/>
<rect x="205.00" y="44.30" width="7.97" height="7.70" fill="#b0b040"/>
<rect x="212.37" y="44.30" width="7.97" height="7.70" fill="#909060"/>
<rect x="219.73" y="44.30" width="7.37" height="7.70" fill="#909060"/>
<rect x="182.90" y="56.50" width="7.97" height="8.24" fill="#ff1c1c"/>
<rect x="190.27" y="56.50" width="7.97" height="8.24" fill="#ff1c1c"/>
<rect x="197.63" y="56.50" width="7.97" height="8.24" fill="#ff1c1c"/>
<rect x="205.00" y="56.50" width="7.97" height="8.24" fill="#ff1c1c"/>
<rect x="212.37" y="56.50" width="7.97" height="8.24" fill="#ff6a20"/>
<rect x="219.73" y="56.50" width="7.37" height="8.24" fill="#ff8030"/>
<rect x="182.90" y="64.14" width="7.97" height="8.24" fill="#ff1c1c"/>
<rect x="190.27" y="64.14" width="7.97" height="8.24" fill="#ff1c1c"/>
<rect x="197.63" y="64.14" width="7.97" height="8.24" fill="#ff1c1c"/>
<rect x="205.00" y="64.14" width="7.97" height="8.24" fill="#ff4020"/>
<rect x="212.37" y="64.14" width="7.97" height="8.24" fill="#ff1c1c"/>
<rect x="219.73" y="64.14" width="7.37" height="8.24" fill="#ff1c1c"/>
<rect x="182.90" y="71.78" width="7.97" height="8.24" fill="#2c2cd4"/>
<rect x="190.27" y="71.78" width="7.97" height="8.24" fill="#2c2cd4"/>
<rect x="197.63" y="71.78" width="7.97" height="8.24" fill="#2c2cd4"/>
<rect x="205.00" y="71.78" width="7.97" height="8.24" fill="#1414f0"/>
<rect x="212.37" y="71.78" width="7.97" height="8.24" fill="#1414f0"/>
<rect x="219.73" y="71.78" width="7.37" height="8.24" fill="#1414f0"/>
<rect x="182.90" y="79.42" width="7.97" height="8.24" fill="#2c2cd4"/>
<rect x="190.27" y="79.42" width="7.97" height="8.24" fill="#2c2cd4"/>
<rect x="197.63" y="79.42" width="7.97" height="8.24" fill="#2c2cd4"/>
<rect x="205.00" y="79.42" width="7.97" height="8.24" fill="#1414f0"/>
<rect x="212.37" y="79.42" width="7.97" height="8.24" fill="#1414f0"/>
<rect x="219.73" y="79.42" width="7.37" height="8.24" fill="#1414f0"/>
<rect x="182.90" y="87.06" width="7.97" height="8.24" fill="#5a5ab0"/>
<rect x="190.27" y="87.06" width="7.97" height="8.24" fill="#8a8a78"/>
<rect x="197.63" y="87.06" width="7.97" height="8.24" fill="#6a6aa0"/>
<rect x="205.00" y="87.06" width="7.97" height="8.24" fill="#2222e4"/>
<rect x="212.37" y="87.06" width="7.97" height="8.24" fill="#2222e4"/>
<rect x="219.73" y="87.06" width="7.37" height="8.24" fill="#2222e4"/>
<rect x="182.90" y="94.70" width="7.97" height="8.24" fill="#8c8c6c"/>
<rect x="190.27" y="94.70" width="7.97" height="8.24" fill="#94946e"/>
<rect x="197.63" y="94.70" width="7.97" height="8.24" fill="#8a8a72"/>
<rect x="205.00" y="94.70" width="7.97" height="8.24" fill="#2222e4"/>
<rect x="212.37" y="94.70" width="7.97" height="8.24" fill="#5a5ab8"/>
<rect x="219.73" y="94.70" width="7.37" height="8.24" fill="#2222e4"/>
<rect x="182.90" y="102.34" width="7.97" height="8.24" fill="#8a8a6e"/>
<rect x="190.27" y="102.34" width="7.97" height="8.24" fill="#8e8e70"/>
<rect x="197.63" y="102.34" width="7.97" height="8.24" fill="#8a8a70"/>
<rect x="205.00" y="102.34" width="7.97" height="8.24" fill="#1818f0"/>
<rect x="212.37" y="102.34" width="7.97" height="8.24" fill="#1818f0"/>
<rect x="219.73" y="102.34" width="7.37" height="8.24" fill="#1818f0"/>
<rect x="182.90" y="109.98" width="7.97" height="8.24" fill="#4040c0"/>
<rect x="190.27" y="109.98" width="7.97" height="8.24" fill="#3838c8"/>
<rect x="197.63" y="109.98" width="7.97" height="8.24" fill="#3c3cc4"/>
<rect x="205.00" y="109.98" width="7.97" height="8.24" fill="#2222e4"/>
<rect x="212.37" y="109.98" width="7.97" height="8.24" fill="#2222e4"/>
<rect x="219.73" y="109.98" width="7.37" height="8.24" fill="#2222e4"/>
<rect x="182.90" y="117.62" width="7.97" height="7.64" fill="#2222e4"/>
<rect x="190.27" y="117.62" width="7.97" height="7.64" fill="#2222e4"/>
<rect x="197.63" y="117.62" width="7.97" height="7.64" fill="#2222e4"/>
<rect x="205.00" y="117.62" width="7.97" height="7.64" fill="#6060a8"/>
<rect x="212.37" y="117.62" width="7.97" height="7.64" fill="#4848c0"/>
<rect x="219.73" y="117.62" width="7.37" height="7.64" fill="#2222e4"/>
<rect x="182.90" y="131.70" width="7.97" height="8.26" fill="#989860"/>
<rect x="190.27" y="131.70" width="7.97" height="8.26" fill="#808070"/>
<rect x="197.63" y="131.70" width="7.97" height="8.26" fill="#989860"/>
<rect x="205.00" y="131.70" width="7.97" height="8.26" fill="#1818e8"/>
<rect x="212.37" y="131.70" width="7.97" height="8.26" fill="#1818e8"/>
<rect x="219.73" y="131.70" width="7.37" height="8.26" fill="#1818e8"/>
<rect x="182.90" y="139.36" width="7.97" height="8.26" fill="#b0b040"/>
<rect x="190.27" y="139.36" width="7.97" height="8.26" fill="#a0a050"/>
<rect x="197.63" y="139.36" width="7.97" height="8.26" fill="#b0b040"/>
<rect x="205.00" y="139.36" width="7.97" height="8.26" fill="#2020e0"/>
<rect x="212.37" y="139.36" width="7.97" height="8.26" fill="#2020e0"/>
<rect x="219.73" y="139.36" width="7.37" height="8.26" fill="#3030d0"/>
<rect x="182.90" y="147.02" width="7.97" height="8.26" fill="#b8b840"/>
<rect x="190.27" y="147.02" width="7.97" height="8.26" fill="#b0b048"/>
<rect x="197.63" y="147.02" width="7.97" height="8.26" fill="#b8b840"/>
<rect x="205.00" y="147.02" width="7.97" height="8.26" fill="#707088"/>
<rect x="212.37" y="147.02" width="7.97" height="8.26" fill="#787888"/>
<rect x="219.73" y="147.02" width="7.37" height="8.26" fill="#707088"/>
<rect x="182.90" y="154.68" width="7.97" height="8.26" fill="#b8b840"/>
<rect x="190.27" y="154.68" width="7.97" height="8.26" fill="#909060"/>
<rect x="197.63" y="154.68" width="7.97" height="8.26" fill="#b8b840"/>
<rect x="205.00" y="154.68" width="7.97" height="8.26" fill="#787888"/>
<rect x="212.37" y="154.68" width="7.97" height="8.26" fill="#707088"/>
<rect x="219.73" y="154.68" width="7.37" height="8.26" fill="#787888"/>
<rect x="182.90" y="162.34" width="7.97" height="8.26" fill="#ff9a10"/>
<rect x="190.27" y="162.34" width="7.97" height="8.26" fill="#ff9a10"/>
<rect x="197.63" y="162.34" width="7.97" height="8.26" fill="#ff9a10"/>
<rect x="205.00" y="162.34" width="7.97" height="8.26" fill="#ff1818"/>
<rect x="212.37" y="162.34" width="7.97" height="8.26" fill="#ff1818"/>
<rect x="219.73" y="162.34" width="7.37" height="8.26" fill="#ff1818"/>
<rect x="182.90" y="170.00" width="7.97" height="8.26" fill="#ff9010"/>
<rect x="190.27" y="170.00" width="7.97" height="8.26" fill="#ff9010"/>
<rect x="197.63" y="170.00" width="7.97" height="8.26" fill="#ff9010"/>
<rect x="205.00" y="170.00" width="7.97" height="8.26" fill="#ff1818"/>
<rect x="212.37" y="170.00" width="7.97" height="8.26" fill="#ff1818"/>
<rect x="219.73" y="170.00" width="7.37" height="8.26" fill="#ff1818"/>
<rect x="182.90" y="177.66" width="7.97" height="8.26" fill="#ffa020"/>
<rect x="190.27" y="177.66" width="7.97" height="8.26" fill="#ff9020"/>
<rect x="197.63" y="177.66" width="7.97" height="8.26" fill="#ff8020"/>
<rect x="205.00" y="177.66" width="7.97" height="8.26" fill="#ff5020"/>
<rect x="212.37" y="177.66" width="7.97" height="8.26" fill="#ff5020"/>
<rect x="219.73" y="177.66" width="7.37" height="8.26" fill="#ff5020"/>
<rect x="182.90" y="185.32" width="7.97" height="7.66" fill="#ffff10"/>
<rect x="190.27" y="185.32" width="7.97" height="7.66" fill="#ffd020"/>
<rect x="197.63" y="185.32" width="7.97" height="7.66" fill="#ff9020"/>
<rect x="205.00" y="185.32" width="7.97" height="7.66" fill="#ff8020"/>
<rect x="212.37" y="185.32" width="7.97" height="7.66" fill="#ff1818"/>
<rect x="219.73" y="185.32" width="7.37" height="7.66" fill="#ff5020"/>
<text x="233.0" y="43.10" font-size="6.5" font-weight="bold" fill="#111">CD83</text>
<text x="233.0" y="50.80" font-size="6.5" font-weight="bold" fill="#111">CD40</text>
<text x="233.0" y="62.30" font-size="6.5" font-weight="bold" fill="#111">CCL22</text>
<text x="233.0" y="69.98" font-size="6.5" font-weight="bold" fill="#111">CD14</text>
<text x="233.0" y="77.66" font-size="6.5" font-weight="bold" fill="#111">CD1A</text>
<text x="233.0" y="85.34" font-size="6.5" font-weight="bold" fill="#111">CD80</text>
<text x="233.0" y="93.02" font-size="6.5" font-weight="bold" fill="#111">HLA-DRB3</text>
<text x="233.0" y="100.70" font-size="6.5" font-weight="bold" fill="#111">HLA-DQB1</text>
<text x="233.0" y="108.38" font-size="6.5" font-weight="bold" fill="#111">HLA-DQA1</text>
<text x="233.0" y="116.06" font-size="6.5" font-weight="bold" fill="#111">LAMP3</text>
<text x="233.0" y="123.74" font-size="6.5" font-weight="bold" fill="#111">IRF4</text>
<text x="233.0" y="136.50" font-size="6.5" font-weight="bold" fill="#111">CCL18*</text>
<text x="233.0" y="144.37" font-size="6.5" font-weight="bold" fill="#111">CCL17</text>
<text x="233.0" y="152.24" font-size="6.5" font-weight="bold" fill="#111">HLA-DPA1</text>
<text x="233.0" y="160.11" font-size="6.5" font-weight="bold" fill="#111">HLA-DPB1</text>
<text x="233.0" y="167.98" font-size="6.5" font-weight="bold" fill="#111">LILRB1 (ILT2)</text>
<text x="233.0" y="175.85" font-size="6.5" font-weight="bold" fill="#111">LILRB4 (ILT3)</text>
<text x="233.0" y="183.72" font-size="6.5" font-weight="bold" fill="#111">CD86*</text>
<text x="233.0" y="191.59" font-size="6.5" font-weight="bold" fill="#111">FCGR2B (CD32)</text>
<text transform="translate(179.2,46.8) rotate(-90)" font-size="6.5" text-anchor="middle" fill="#333">EARLY</text>
<text transform="translate(179.2,92.6) rotate(-90)" font-size="6.5" text-anchor="middle" fill="#333">SUSTAINED</text>
<text transform="translate(179.2,161.6) rotate(-90)" font-size="6.5" text-anchor="middle" fill="#333">LATE</text>
<line x1="183.6" y1="197.4" x2="203.6" y2="197.4" stroke="#4a4a4a" stroke-width="1.0"/>
<line x1="206.2" y1="197.4" x2="226.4" y2="197.4" stroke="#4a4a4a" stroke-width="1.0"/>
<text x="193.2" y="206.3" font-size="7.3" font-weight="bold" text-anchor="middle" fill="#1a1a1a">12h</text>
<text x="215.6" y="206.3" font-size="7.3" font-weight="bold" text-anchor="middle" fill="#1a1a1a">5d</text>
<text x="222.6" y="222.5" font-size="6.68" text-anchor="middle" fill="#2a2a2a" stroke="#2a2a2a" stroke-width="0.15">NOT REGULATED in immature DCs</text>
<rect x="182.90" y="227.60" width="7.97" height="8.05" fill="#f8ec10"/>
<rect x="190.27" y="227.60" width="7.97" height="8.05" fill="#f8ec10"/>
<rect x="197.63" y="227.60" width="7.97" height="8.05" fill="#f8ec10"/>
<rect x="205.00" y="227.60" width="7.97" height="8.05" fill="#f8ec10"/>
<rect x="212.37" y="227.60" width="7.97" height="8.05" fill="#f8ec10"/>
<rect x="219.73" y="227.60" width="7.37" height="8.05" fill="#f8ec10"/>
<rect x="182.90" y="235.05" width="7.97" height="8.05" fill="#f09020"/>
<rect x="190.27" y="235.05" width="7.97" height="8.05" fill="#f8ec10"/>
<rect x="197.63" y="235.05" width="7.97" height="8.05" fill="#f8c010"/>
<rect x="205.00" y="235.05" width="7.97" height="8.05" fill="#1010e0"/>
<rect x="212.37" y="235.05" width="7.97" height="8.05" fill="#d0d060"/>
<rect x="219.73" y="235.05" width="7.37" height="8.05" fill="#f8ec10"/>
<rect x="182.90" y="242.50" width="7.97" height="8.05" fill="#f0e010"/>
<rect x="190.27" y="242.50" width="7.97" height="8.05" fill="#e8e020"/>
<rect x="197.63" y="242.50" width="7.97" height="8.05" fill="#f8ec10"/>
<rect x="205.00" y="242.50" width="7.97" height="8.05" fill="#f8ec10"/>
<rect x="212.37" y="242.50" width="7.97" height="8.05" fill="#f8b020"/>
<rect x="219.73" y="242.50" width="7.37" height="8.05" fill="#f0a020"/>
<rect x="182.90" y="249.95" width="7.97" height="7.45" fill="#e8e020"/>
<rect x="190.27" y="249.95" width="7.97" height="7.45" fill="#e8e020"/>
<rect x="197.63" y="249.95" width="7.97" height="7.45" fill="#f8ec10"/>
<rect x="205.00" y="249.95" width="7.97" height="7.45" fill="#f8ec10"/>
<rect x="212.37" y="249.95" width="7.97" height="7.45" fill="#f8ec10"/>
<rect x="219.73" y="249.95" width="7.37" height="7.45" fill="#c0b040"/>
<text x="233.0" y="234.00" font-size="6.5" font-weight="bold" fill="#111">IL12A*</text>
<text x="233.0" y="241.75" font-size="6.5" font-weight="bold" fill="#111">IL10*</text>
<text x="233.0" y="249.50" font-size="6.5" font-weight="bold" fill="#111">MRC1*</text>
<text x="233.0" y="257.25" font-size="6.5" font-weight="bold" fill="#111">IL12B*</text>
<line x1="183.6" y1="261.6" x2="203.6" y2="261.6" stroke="#4a4a4a" stroke-width="1.0"/>
<line x1="206.2" y1="261.6" x2="226.6" y2="261.6" stroke="#4a4a4a" stroke-width="1.0"/>
<text x="193.2" y="270.7" font-size="7.3" font-weight="bold" text-anchor="middle" fill="#1a1a1a">12h</text>
<text x="215.6" y="270.7" font-size="7.3" font-weight="bold" text-anchor="middle" fill="#1a1a1a">5d</text>
<text x="293.0" y="8.5" font-size="10.5" fill="#1a1a1a" stroke="#1a1a1a" stroke-width="0.15">C</text>
<text x="326.0" y="12.9" font-size="7.3" fill="#2a2a2a" stroke="#2a2a2a" stroke-width="0.15">VDR targets (immunity and defense category)</text>
<text x="326.0" y="22.2" font-size="7.3" fill="#2a2a2a" stroke="#2a2a2a" stroke-width="0.15">with identified VDRE or nVDRE</text>
<rect x="325.50" y="27.90" width="7.95" height="8.15" fill="#ff1818"/>
<rect x="332.85" y="27.90" width="7.95" height="8.15" fill="#ff1818"/>
<rect x="340.20" y="27.90" width="7.95" height="8.15" fill="#ff1818"/>
<rect x="347.55" y="27.90" width="7.95" height="8.15" fill="#ff1818"/>
<rect x="354.90" y="27.90" width="7.95" height="8.15" fill="#ff1818"/>
<rect x="362.25" y="27.90" width="7.35" height="8.15" fill="#ff1818"/>
<rect x="325.50" y="35.45" width="7.95" height="8.15" fill="#ff1818"/>
<rect x="332.85" y="35.45" width="7.95" height="8.15" fill="#ff4828"/>
<rect x="340.20" y="35.45" width="7.95" height="8.15" fill="#ff1818"/>
<rect x="347.55" y="35.45" width="7.95" height="8.15" fill="#ff1818"/>
<rect x="354.90" y="35.45" width="7.95" height="8.15" fill="#ff1818"/>
<rect x="362.25" y="35.45" width="7.35" height="8.15" fill="#ff1818"/>
<rect x="325.50" y="43.00" width="7.95" height="8.15" fill="#b0b040"/>
<rect x="332.85" y="43.00" width="7.95" height="8.15" fill="#888070"/>
<rect x="340.20" y="43.00" width="7.95" height="8.15" fill="#888070"/>
<rect x="347.55" y="43.00" width="7.95" height="8.15" fill="#ff7a20"/>
<rect x="354.90" y="43.00" width="7.95" height="8.15" fill="#ffa020"/>
<rect x="362.25" y="43.00" width="7.35" height="8.15" fill="#ff9420"/>
<rect x="325.50" y="50.55" width="7.95" height="7.55" fill="#1818e8"/>
<rect x="332.85" y="50.55" width="7.95" height="7.55" fill="#1818e8"/>
<rect x="340.20" y="50.55" width="7.95" height="7.55" fill="#1818e8"/>
<rect x="347.55" y="50.55" width="7.95" height="7.55" fill="#1818e8"/>
<rect x="354.90" y="50.55" width="7.95" height="7.55" fill="#1818e8"/>
<rect x="362.25" y="50.55" width="7.35" height="7.55" fill="#1818e8"/>
<text x="374.3" y="34.1" font-size="6.6" fill="#1a1a1a" stroke="#1a1a1a" stroke-width="0.15"><tspan font-weight="bold">CAMP</tspan> (cathelicidin antimicrobial peptide)</text>
<text x="374.3" y="41.8" font-size="6.6" fill="#1a1a1a" stroke="#1a1a1a" stroke-width="0.15"><tspan font-weight="bold">ALOX5</tspan> (arachidonate 5-lipoxygenase)</text>
<text x="374.3" y="49.6" font-size="6.6" font-weight="bold" fill="#1a1a1a">PPARD</text>
<text x="374.3" y="57.4" font-size="6.5" font-weight="bold" fill="#1a1a1a">IER3 (IEX-1)</text>
<line x1="326.3" y1="63.2" x2="346.5" y2="63.2" stroke="#4a4a4a" stroke-width="1.0"/>
<line x1="349.0" y1="63.2" x2="368.8" y2="63.2" stroke="#4a4a4a" stroke-width="1.0"/>
<text x="335.3" y="72.5" font-size="7.2" font-weight="bold" text-anchor="middle" fill="#1a1a1a">12h</text>
<text x="358.3" y="72.5" font-size="7.2" font-weight="bold" text-anchor="middle" fill="#1a1a1a">5d</text>
<text x="292.3" y="93.6" font-size="10.0" fill="#1a1a1a" stroke="#1a1a1a" stroke-width="0.15">D</text>
<text x="339.0" y="99.3" font-size="6.5" text-anchor="middle" fill="#2a2a2a" stroke="#2a2a2a" stroke-width="0.15">Microarray</text>
<text x="339.0" y="107.1" font-size="6.56" text-anchor="middle" fill="#2a2a2a" stroke="#2a2a2a" stroke-width="0.15">Per chip normalized signal intensities</text>
<text x="459.0" y="99.3" font-size="6.5" text-anchor="middle" fill="#2a2a2a" stroke="#2a2a2a" stroke-width="0.15">qPCR</text>
<text x="459.0" y="107.1" font-size="6.55" text-anchor="middle" fill="#2a2a2a" stroke="#2a2a2a" stroke-width="0.15">normalized mRNA</text>
<line x1="296.0" y1="126.2" x2="377.9" y2="126.2" stroke="#111" stroke-width="1"/>
<line x1="377.5" y1="125.7" x2="377.5" y2="270.0" stroke="#111" stroke-width="1"/>
<line x1="296.0" y1="124.4" x2="296.0" y2="126.2" stroke="#111" stroke-width="0.8"/>
<text transform="translate(294.90,123.0) rotate(90)" text-anchor="end" font-size="5.3" fill="#222" stroke="#222" stroke-width="0.2">1500</text>
<line x1="323.1" y1="124.4" x2="323.1" y2="126.2" stroke="#111" stroke-width="0.8"/>
<text transform="translate(322.00,123.0) rotate(90)" text-anchor="end" font-size="5.3" fill="#222" stroke="#222" stroke-width="0.2">1000</text>
<line x1="350.2" y1="124.4" x2="350.2" y2="126.2" stroke="#111" stroke-width="0.8"/>
<text transform="translate(349.10,123.0) rotate(90)" text-anchor="end" font-size="5.3" fill="#222" stroke="#222" stroke-width="0.2">500</text>
<line x1="377.5" y1="124.4" x2="377.5" y2="126.2" stroke="#111" stroke-width="0.8"/>
<text transform="translate(376.40,123.0) rotate(90)" text-anchor="end" font-size="5.3" fill="#222" stroke="#222" stroke-width="0.2">0</text>
<line x1="413.1" y1="126.2" x2="499.5" y2="126.2" stroke="#111" stroke-width="1"/>
<line x1="413.5" y1="125.7" x2="413.5" y2="270.0" stroke="#111" stroke-width="1"/>
<line x1="413.5" y1="124.4" x2="413.5" y2="126.2" stroke="#111" stroke-width="0.8"/>
<text transform="translate(411.40,123.6) rotate(90)" text-anchor="end" font-size="5.4" fill="#222" stroke="#222" stroke-width="0.2">0.000</text>
<line x1="430.8" y1="124.4" x2="430.8" y2="126.2" stroke="#111" stroke-width="0.8"/>
<text transform="translate(428.70,123.6) rotate(90)" text-anchor="end" font-size="5.4" fill="#222" stroke="#222" stroke-width="0.2">0.020</text>
<line x1="449.0" y1="124.4" x2="449.0" y2="126.2" stroke="#111" stroke-width="0.8"/>
<text transform="translate(448.10,123.6) rotate(90)" text-anchor="end" font-size="5.4" fill="#222" stroke="#222" stroke-width="0.2">0.05</text>
<line x1="469.5" y1="124.4" x2="469.5" y2="126.2" stroke="#111" stroke-width="0.8"/>
<text transform="translate(468.60,123.6) rotate(90)" text-anchor="end" font-size="5.4" fill="#222" stroke="#222" stroke-width="0.2">1.05</text>
<line x1="490.5" y1="124.4" x2="490.5" y2="126.2" stroke="#111" stroke-width="0.8"/>
<text transform="translate(489.60,123.6) rotate(90)" text-anchor="end" font-size="5.4" fill="#222" stroke="#222" stroke-width="0.2">12.5</text>
<line x1="496.0" y1="124.4" x2="496.0" y2="126.2" stroke="#111" stroke-width="0.8"/>
<text transform="translate(495.10,123.6) rotate(90)" text-anchor="end" font-size="5.4" fill="#222" stroke="#222" stroke-width="0.2">13.0</text>
<line x1="365.8" y1="129.3" x2="370.7" y2="129.3" stroke="#999" stroke-width="0.6"/>
<rect x="370.70" y="128.00" width="6.80" height="2.60" fill="#ececec" stroke="#8a8a8a" stroke-width="0.6"/>
<line x1="299.4" y1="133.1" x2="309.2" y2="133.1" stroke="#888" stroke-width="0.6"/>
<rect x="309.20" y="131.60" width="68.30" height="3.00" fill="#000"/>
<text x="297.1" y="134.80" font-size="6.8" font-style="italic" text-anchor="end" fill="#333" stroke="#333" stroke-width="0.15">9.0x</text>
<text x="395.4" y="134.60" font-size="6.55" text-anchor="middle" fill="#222" stroke="#222" stroke-width="0.15">CCL22</text>
<line x1="368.0" y1="139.49" x2="371.0" y2="139.49" stroke="#999" stroke-width="0.6"/>
<rect x="371.00" y="138.19" width="6.50" height="2.60" fill="#ececec" stroke="#8a8a8a" stroke-width="0.6"/>
<line x1="359.3" y1="143.29" x2="362.0" y2="143.29" stroke="#888" stroke-width="0.6"/>
<rect x="362.00" y="141.79" width="15.50" height="3.00" fill="#000"/>
<text x="355.2" y="144.99" font-size="6.8" font-style="italic" text-anchor="end" fill="#333" stroke="#333" stroke-width="0.15">2.5x</text>
<text x="395.4" y="144.79" font-size="6.55" text-anchor="middle" fill="#222" stroke="#222" stroke-width="0.15">LGALS9</text>
<line x1="369.5" y1="149.68" x2="372.0" y2="149.68" stroke="#999" stroke-width="0.6"/>
<rect x="372.00" y="148.38" width="5.50" height="2.60" fill="#ececec" stroke="#8a8a8a" stroke-width="0.6"/>
<line x1="361.0" y1="153.48" x2="364.0" y2="153.48" stroke="#888" stroke-width="0.6"/>
<rect x="364.00" y="151.98" width="13.50" height="3.00" fill="#000"/>
<text x="355.0" y="155.18" font-size="6.8" font-style="italic" text-anchor="end" fill="#333" stroke="#333" stroke-width="0.15">3.2x</text>
<text x="395.4" y="154.98" font-size="6.55" text-anchor="middle" fill="#222" stroke="#222" stroke-width="0.15">IRF8</text>
<line x1="373.0" y1="159.87" x2="375.0" y2="159.87" stroke="#999" stroke-width="0.6"/>
<rect x="375.00" y="158.57" width="2.50" height="2.60" fill="#ececec" stroke="#8a8a8a" stroke-width="0.6"/>
<line x1="353.5" y1="163.67" x2="356.7" y2="163.67" stroke="#888" stroke-width="0.6"/>
<rect x="356.70" y="162.17" width="20.80" height="3.00" fill="#000"/>
<text x="348.0" y="165.37" font-size="6.8" font-style="italic" text-anchor="end" fill="#333" stroke="#333" stroke-width="0.15">28.0x</text>
<text x="395.4" y="165.17" font-size="6.55" text-anchor="middle" fill="#222" stroke="#222" stroke-width="0.15">CD300LF</text>
<line x1="374.0" y1="170.06" x2="375.5" y2="170.06" stroke="#999" stroke-width="0.6"/>
<rect x="375.50" y="168.76" width="2.00" height="2.60" fill="#ececec" stroke="#8a8a8a" stroke-width="0.6"/>
<line x1="322.5" y1="173.85999999999999" x2="326.0" y2="173.85999999999999" stroke="#888" stroke-width="0.6"/>
<rect x="326.00" y="172.36" width="51.50" height="3.00" fill="#000"/>
<text x="321.6" y="175.56" font-size="6.8" font-style="italic" text-anchor="end" fill="#333" stroke="#333" stroke-width="0.15">332.4x</text>
<text x="395.4" y="175.36" font-size="6.55" text-anchor="middle" fill="#222" stroke="#222" stroke-width="0.15">CD14</text>
<line x1="374.0" y1="180.25" x2="375.5" y2="180.25" stroke="#999" stroke-width="0.6"/>
<rect x="375.50" y="178.95" width="2.00" height="2.60" fill="#ececec" stroke="#8a8a8a" stroke-width="0.6"/>
<line x1="362.0" y1="184.04999999999998" x2="366.4" y2="184.04999999999998" stroke="#888" stroke-width="0.6"/>
<rect x="366.40" y="182.55" width="11.10" height="3.00" fill="#000"/>
<text x="359.6" y="185.75" font-size="6.8" font-style="italic" text-anchor="end" fill="#333" stroke="#333" stroke-width="0.15">20.4x</text>
<text x="395.4" y="185.55" font-size="6.55" text-anchor="middle" fill="#222" stroke="#222" stroke-width="0.15">THBD</text>
<line x1="374.0" y1="190.44" x2="375.5" y2="190.44" stroke="#999" stroke-width="0.6"/>
<rect x="375.50" y="189.14" width="2.00" height="2.60" fill="#ececec" stroke="#8a8a8a" stroke-width="0.6"/>
<line x1="352.5" y1="194.24" x2="355.2" y2="194.24" stroke="#888" stroke-width="0.6"/>
<rect x="355.20" y="192.74" width="22.30" height="3.00" fill="#000"/>
<text x="352.0" y="195.94" font-size="6.8" font-style="italic" text-anchor="end" fill="#333" stroke="#333" stroke-width="0.15">5.0x</text>
<text x="395.4" y="195.74" font-size="6.55" text-anchor="middle" fill="#222" stroke="#222" stroke-width="0.15">ALOX5</text>
<line x1="370.5" y1="200.63" x2="371.7" y2="200.63" stroke="#999" stroke-width="0.6"/>
<rect x="371.70" y="199.33" width="5.80" height="2.60" fill="#ececec" stroke="#8a8a8a" stroke-width="0.6"/>
<rect x="376.20" y="202.93" width="1.30" height="3.00" fill="#000"/>
<text x="368.4" y="206.13" font-size="6.8" font-style="italic" text-anchor="end" fill="#333" stroke="#333" stroke-width="0.15">0.12x</text>
<text x="395.4" y="205.93" font-size="6.55" text-anchor="middle" fill="#222" stroke="#222" stroke-width="0.15">IER3</text>
<line x1="354.2" y1="210.82" x2="364.4" y2="210.82" stroke="#999" stroke-width="0.6"/>
<rect x="364.40" y="209.52" width="13.10" height="2.60" fill="#ececec" stroke="#8a8a8a" stroke-width="0.6"/>
<line x1="374.0" y1="214.62" x2="375.0" y2="214.62" stroke="#888" stroke-width="0.6"/>
<rect x="375.00" y="213.12" width="2.50" height="3.00" fill="#000"/>
<text x="354.2" y="216.32" font-size="6.8" font-style="italic" text-anchor="end" fill="#333" stroke="#333" stroke-width="0.15">0.20x</text>
<text x="395.4" y="216.12" font-size="6.55" text-anchor="middle" fill="#222" stroke="#222" stroke-width="0.15">CD1A</text>
<line x1="373.5" y1="221.01" x2="375.0" y2="221.01" stroke="#999" stroke-width="0.6"/>
<rect x="375.00" y="219.71" width="2.50" height="2.60" fill="#ececec" stroke="#8a8a8a" stroke-width="0.6"/>
<rect x="376.00" y="223.31" width="1.50" height="3.00" fill="#000"/>
<text x="371.7" y="226.51" font-size="6.8" font-style="italic" text-anchor="end" fill="#333" stroke="#333" stroke-width="0.15">0.29x</text>
<text x="395.4" y="226.31" font-size="6.55" text-anchor="middle" fill="#222" stroke="#222" stroke-width="0.15">CD80</text>
<line x1="372.0" y1="231.2" x2="373.3" y2="231.2" stroke="#999" stroke-width="0.6"/>
<rect x="373.30" y="229.90" width="4.20" height="2.60" fill="#ececec" stroke="#8a8a8a" stroke-width="0.6"/>
<rect x="376.50" y="233.50" width="1.00" height="3.00" fill="#000"/>
<text x="368.1" y="236.70" font-size="6.8" font-style="italic" text-anchor="end" fill="#333" stroke="#333" stroke-width="0.15">0.07x</text>
<text x="395.4" y="236.50" font-size="6.55" text-anchor="middle" fill="#222" stroke="#222" stroke-width="0.15">IRF4</text>
<line x1="331.0" y1="241.39" x2="342.2" y2="241.39" stroke="#999" stroke-width="0.6"/>
<rect x="342.20" y="240.09" width="35.30" height="2.60" fill="#ececec" stroke="#8a8a8a" stroke-width="0.6"/>
<line x1="370.0" y1="245.19" x2="373.3" y2="245.19" stroke="#888" stroke-width="0.6"/>
<rect x="373.30" y="243.69" width="4.20" height="3.00" fill="#000"/>
<text x="328.4" y="246.89" font-size="6.8" font-style="italic" text-anchor="end" fill="#333" stroke="#333" stroke-width="0.15">0.13x</text>
<text x="395.4" y="246.69" font-size="6.55" text-anchor="middle" fill="#222" stroke="#222" stroke-width="0.15">CD1E</text>
<line x1="337.9" y1="251.58" x2="344.8" y2="251.58" stroke="#999" stroke-width="0.6"/>
<rect x="344.80" y="250.28" width="32.70" height="2.60" fill="#ececec" stroke="#8a8a8a" stroke-width="0.6"/>
<line x1="363.8" y1="255.38" x2="368.1" y2="255.38" stroke="#888" stroke-width="0.6"/>
<rect x="368.10" y="253.88" width="9.40" height="3.00" fill="#000"/>
<text x="337.0" y="257.08" font-size="6.8" font-style="italic" text-anchor="end" fill="#333" stroke="#333" stroke-width="0.15">0.31x</text>
<text x="395.4" y="256.88" font-size="6.55" text-anchor="middle" fill="#222" stroke="#222" stroke-width="0.15">CD1C</text>
<line x1="364.0" y1="261.77000000000004" x2="366.4" y2="261.77000000000004" stroke="#999" stroke-width="0.6"/>
<rect x="366.40" y="260.47" width="11.10" height="2.60" fill="#ececec" stroke="#8a8a8a" stroke-width="0.6"/>
<line x1="372.0" y1="265.57" x2="373.3" y2="265.57" stroke="#888" stroke-width="0.6"/>
<rect x="373.30" y="264.07" width="4.20" height="3.00" fill="#000"/>
<text x="363.0" y="267.27" font-size="6.8" font-style="italic" text-anchor="end" fill="#333" stroke="#333" stroke-width="0.15">0.39x</text>
<text x="395.4" y="267.07" font-size="6.55" text-anchor="middle" fill="#222" stroke="#222" stroke-width="0.15">CD36</text>
<line x1="467.8" y1="129.2" x2="469.0" y2="129.2" stroke="#999" stroke-width="0.6"/>
<rect x="413.50" y="127.80" width="54.30" height="2.80" fill="#d6d6d6" stroke="#8a8a8a" stroke-width="0.6"/>
<line x1="497.0" y1="133.1" x2="498.8" y2="133.1" stroke="#666" stroke-width="0.6" stroke-dasharray="0.8 0.6"/>
<rect x="413.50" y="131.60" width="83.50" height="3.20" fill="#000"/>
<rect x="447.95" y="127.30" width="1.30" height="7.50" fill="#fff"/>
<rect x="488.00" y="127.30" width="2.00" height="7.50" fill="#fff"/>
<line x1="452.0" y1="139.39000000000001" x2="452.5" y2="139.39000000000001" stroke="#999" stroke-width="0.6"/>
<rect x="413.50" y="137.99" width="38.50" height="2.80" fill="#d6d6d6" stroke="#8a8a8a" stroke-width="0.6"/>
<line x1="452.7" y1="143.29" x2="454.0" y2="143.29" stroke="#666" stroke-width="0.6" stroke-dasharray="0.8 0.6"/>
<rect x="413.50" y="141.79" width="39.20" height="3.20" fill="#000"/>
<rect x="447.95" y="137.49" width="1.30" height="7.50" fill="#fff"/>
<line x1="452.0" y1="149.58" x2="452.5" y2="149.58" stroke="#999" stroke-width="0.6"/>
<rect x="413.50" y="148.18" width="38.50" height="2.80" fill="#d6d6d6" stroke="#8a8a8a" stroke-width="0.6"/>
<line x1="452.0" y1="153.48" x2="453.5" y2="153.48" stroke="#666" stroke-width="0.6" stroke-dasharray="0.8 0.6"/>
<rect x="413.50" y="151.98" width="38.50" height="3.20" fill="#000"/>
<rect x="447.95" y="147.68" width="1.30" height="7.50" fill="#fff"/>
<line x1="416.5" y1="159.77" x2="417.5" y2="159.77" stroke="#999" stroke-width="0.6"/>
<rect x="413.50" y="158.37" width="3.00" height="2.80" fill="#d6d6d6" stroke="#8a8a8a" stroke-width="0.6"/>
<line x1="452.0" y1="163.67" x2="453.0" y2="163.67" stroke="#666" stroke-width="0.6" stroke-dasharray="0.8 0.6"/>
<rect x="413.50" y="162.17" width="38.50" height="3.20" fill="#000"/>
<rect x="447.95" y="157.87" width="1.30" height="7.50" fill="#fff"/>
<line x1="415.5" y1="169.96" x2="416.5" y2="169.96" stroke="#999" stroke-width="0.6"/>
<rect x="413.50" y="168.56" width="2.00" height="2.80" fill="#d6d6d6" stroke="#8a8a8a" stroke-width="0.6"/>
<line x1="433.5" y1="173.85999999999999" x2="438.0" y2="173.85999999999999" stroke="#666" stroke-width="0.6" stroke-dasharray="0.8 0.6"/>
<rect x="413.50" y="172.36" width="20.00" height="3.20" fill="#000"/>
<line x1="415.0" y1="180.15" x2="416.0" y2="180.15" stroke="#999" stroke-width="0.6"/>
<rect x="413.50" y="178.75" width="1.50" height="2.80" fill="#d6d6d6" stroke="#8a8a8a" stroke-width="0.6"/>
<line x1="425.3" y1="184.04999999999998" x2="433.0" y2="184.04999999999998" stroke="#666" stroke-width="0.6" stroke-dasharray="0.8 0.6"/>
<rect x="413.50" y="182.55" width="11.80" height="3.20" fill="#000"/>
<rect x="413.50" y="188.94" width="0.50" height="2.80" fill="#d6d6d6" stroke="#8a8a8a" stroke-width="0.6"/>
<rect x="413.50" y="192.74" width="1.30" height="3.20" fill="#000"/>
<line x1="420.0" y1="200.53" x2="425.7" y2="200.53" stroke="#999" stroke-width="0.6"/>
<rect x="413.50" y="199.13" width="6.50" height="2.80" fill="#d6d6d6" stroke="#8a8a8a" stroke-width="0.6"/>
<line x1="415.7" y1="204.43" x2="416.5" y2="204.43" stroke="#666" stroke-width="0.6" stroke-dasharray="0.8 0.6"/>
<rect x="413.50" y="202.93" width="2.20" height="3.20" fill="#000"/>
<line x1="422.3" y1="210.72" x2="430.0" y2="210.72" stroke="#999" stroke-width="0.6"/>
<rect x="413.50" y="209.32" width="8.80" height="2.80" fill="#d6d6d6" stroke="#8a8a8a" stroke-width="0.6"/>
<line x1="415.7" y1="214.62" x2="416.5" y2="214.62" stroke="#666" stroke-width="0.6" stroke-dasharray="0.8 0.6"/>
<rect x="413.50" y="213.12" width="2.20" height="3.20" fill="#000"/>
<line x1="425.7" y1="220.91" x2="428.6" y2="220.91" stroke="#999" stroke-width="0.6"/>
<rect x="413.50" y="219.51" width="12.20" height="2.80" fill="#d6d6d6" stroke="#8a8a8a" stroke-width="0.6"/>
<line x1="418.6" y1="224.81" x2="419.5" y2="224.81" stroke="#666" stroke-width="0.6" stroke-dasharray="0.8 0.6"/>
<rect x="413.50" y="223.31" width="5.10" height="3.20" fill="#000"/>
<line x1="431.2" y1="231.1" x2="438.6" y2="231.1" stroke="#999" stroke-width="0.6"/>
<rect x="413.50" y="229.70" width="17.70" height="2.80" fill="#d6d6d6" stroke="#8a8a8a" stroke-width="0.6"/>
<rect x="413.50" y="233.50" width="1.00" height="3.20" fill="#000"/>
<line x1="449.1" y1="241.29" x2="450.0" y2="241.29" stroke="#999" stroke-width="0.6"/>
<rect x="413.50" y="239.89" width="35.60" height="2.80" fill="#d6d6d6" stroke="#8a8a8a" stroke-width="0.6"/>
<line x1="419.5" y1="245.19" x2="422.9" y2="245.19" stroke="#666" stroke-width="0.6" stroke-dasharray="0.8 0.6"/>
<rect x="413.50" y="243.69" width="6.00" height="3.20" fill="#000"/>
<rect x="447.95" y="239.39" width="1.30" height="7.50" fill="#fff"/>
<line x1="451.3" y1="251.48" x2="452.0" y2="251.48" stroke="#999" stroke-width="0.6"/>
<rect x="413.50" y="250.08" width="37.80" height="2.80" fill="#d6d6d6" stroke="#8a8a8a" stroke-width="0.6"/>
<line x1="443.4" y1="255.38" x2="444.0" y2="255.38" stroke="#666" stroke-width="0.6" stroke-dasharray="0.8 0.6"/>
<rect x="413.50" y="253.88" width="29.90" height="3.20" fill="#000"/>
<rect x="447.95" y="249.58" width="1.30" height="7.50" fill="#fff"/>
<line x1="460.8" y1="261.66999999999996" x2="467.1" y2="261.66999999999996" stroke="#999" stroke-width="0.6"/>
<rect x="413.50" y="260.27" width="47.30" height="2.80" fill="#d6d6d6" stroke="#8a8a8a" stroke-width="0.6"/>
<line x1="452.7" y1="265.57" x2="453.5" y2="265.57" stroke="#666" stroke-width="0.6" stroke-dasharray="0.8 0.6"/>
<rect x="413.50" y="264.07" width="39.20" height="3.20" fill="#000"/>
<rect x="447.95" y="259.77" width="1.30" height="7.50" fill="#fff"/>
<rect x="448.00" y="125.60" width="1.30" height="1.20" fill="#fff"/>
<line x1="447.0" y1="127.7" x2="448.40000000000003" y2="124.7" stroke="#111" stroke-width="0.6"/>
<line x1="448.8" y1="127.7" x2="450.20000000000005" y2="124.7" stroke="#111" stroke-width="0.6"/>
<rect x="488.40" y="125.60" width="1.30" height="1.20" fill="#fff"/>
<line x1="487.4" y1="127.7" x2="488.8" y2="124.7" stroke="#111" stroke-width="0.6"/>
<line x1="489.2" y1="127.7" x2="490.6" y2="124.7" stroke="#111" stroke-width="0.6"/>
<text x="502.6" y="134.80" font-size="6.9" font-style="italic" fill="#333" stroke="#333" stroke-width="0.15">26.9x</text>
<text x="462.3" y="144.99" font-size="6.9" font-style="italic" fill="#333" stroke="#333" stroke-width="0.15">3.3x</text>
<text x="461.0" y="155.18" font-size="6.9" font-style="italic" fill="#333" stroke="#333" stroke-width="0.15">2.6x</text>
<text x="459.6" y="165.37" font-size="6.9" font-style="italic" fill="#333" stroke="#333" stroke-width="0.15">33.7x</text>
<text x="438.6" y="175.56" font-size="6.9" font-style="italic" fill="#333" stroke="#333" stroke-width="0.15">10.4x</text>
<text x="434.6" y="185.75" font-size="6.9" font-style="italic" fill="#333" stroke="#333" stroke-width="0.15">13.7x</text>
<text x="419.8" y="195.94" font-size="6.9" font-style="italic" fill="#333" stroke="#333" stroke-width="0.15">3.9x</text>
<text x="427.0" y="206.13" font-size="6.9" font-style="italic" fill="#333" stroke="#333" stroke-width="0.15">0.38x</text>
<text x="431.4" y="216.32" font-size="6.9" font-style="italic" fill="#333" stroke="#333" stroke-width="0.15">0.23x</text>
<text x="430.9" y="226.51" font-size="6.9" font-style="italic" fill="#333" stroke="#333" stroke-width="0.15">0.46x</text>
<text x="443.8" y="236.70" font-size="6.9" font-style="italic" fill="#333" stroke="#333" stroke-width="0.15">0.07x</text>
<text x="454.8" y="246.89" font-size="6.9" font-style="italic" fill="#333" stroke="#333" stroke-width="0.15">0.12x</text>
<text x="460.3" y="257.08" font-size="6.9" font-style="italic" fill="#333" stroke="#333" stroke-width="0.15">0.31x</text>
<text x="473.0" y="267.27" font-size="6.9" font-style="italic" fill="#333" stroke="#333" stroke-width="0.15">0.35x</text>
<rect x="454.60" y="197.30" width="64.50" height="27.10" fill="#fff" stroke="#444" stroke-width="0.8"/>
<text x="483.5" y="204.8" font-size="6.6" text-anchor="middle" fill="#222" stroke="#222" stroke-width="0.15">N=3</text>
<rect x="459.20" y="208.00" width="11.00" height="3.60" fill="#d8d8d8" stroke="#999" stroke-width="0.5"/>
<rect x="459.20" y="216.60" width="11.00" height="3.60" fill="#000"/>
<text x="474.8" y="211.7" font-size="6.6" fill="#222" stroke="#222" stroke-width="0.15">vehicle 12h</text>
<text x="474.8" y="220.6" font-size="6.75" fill="#222" stroke="#222" stroke-width="0.15">1,25-vitD 12h</text>
</svg></body></html>
